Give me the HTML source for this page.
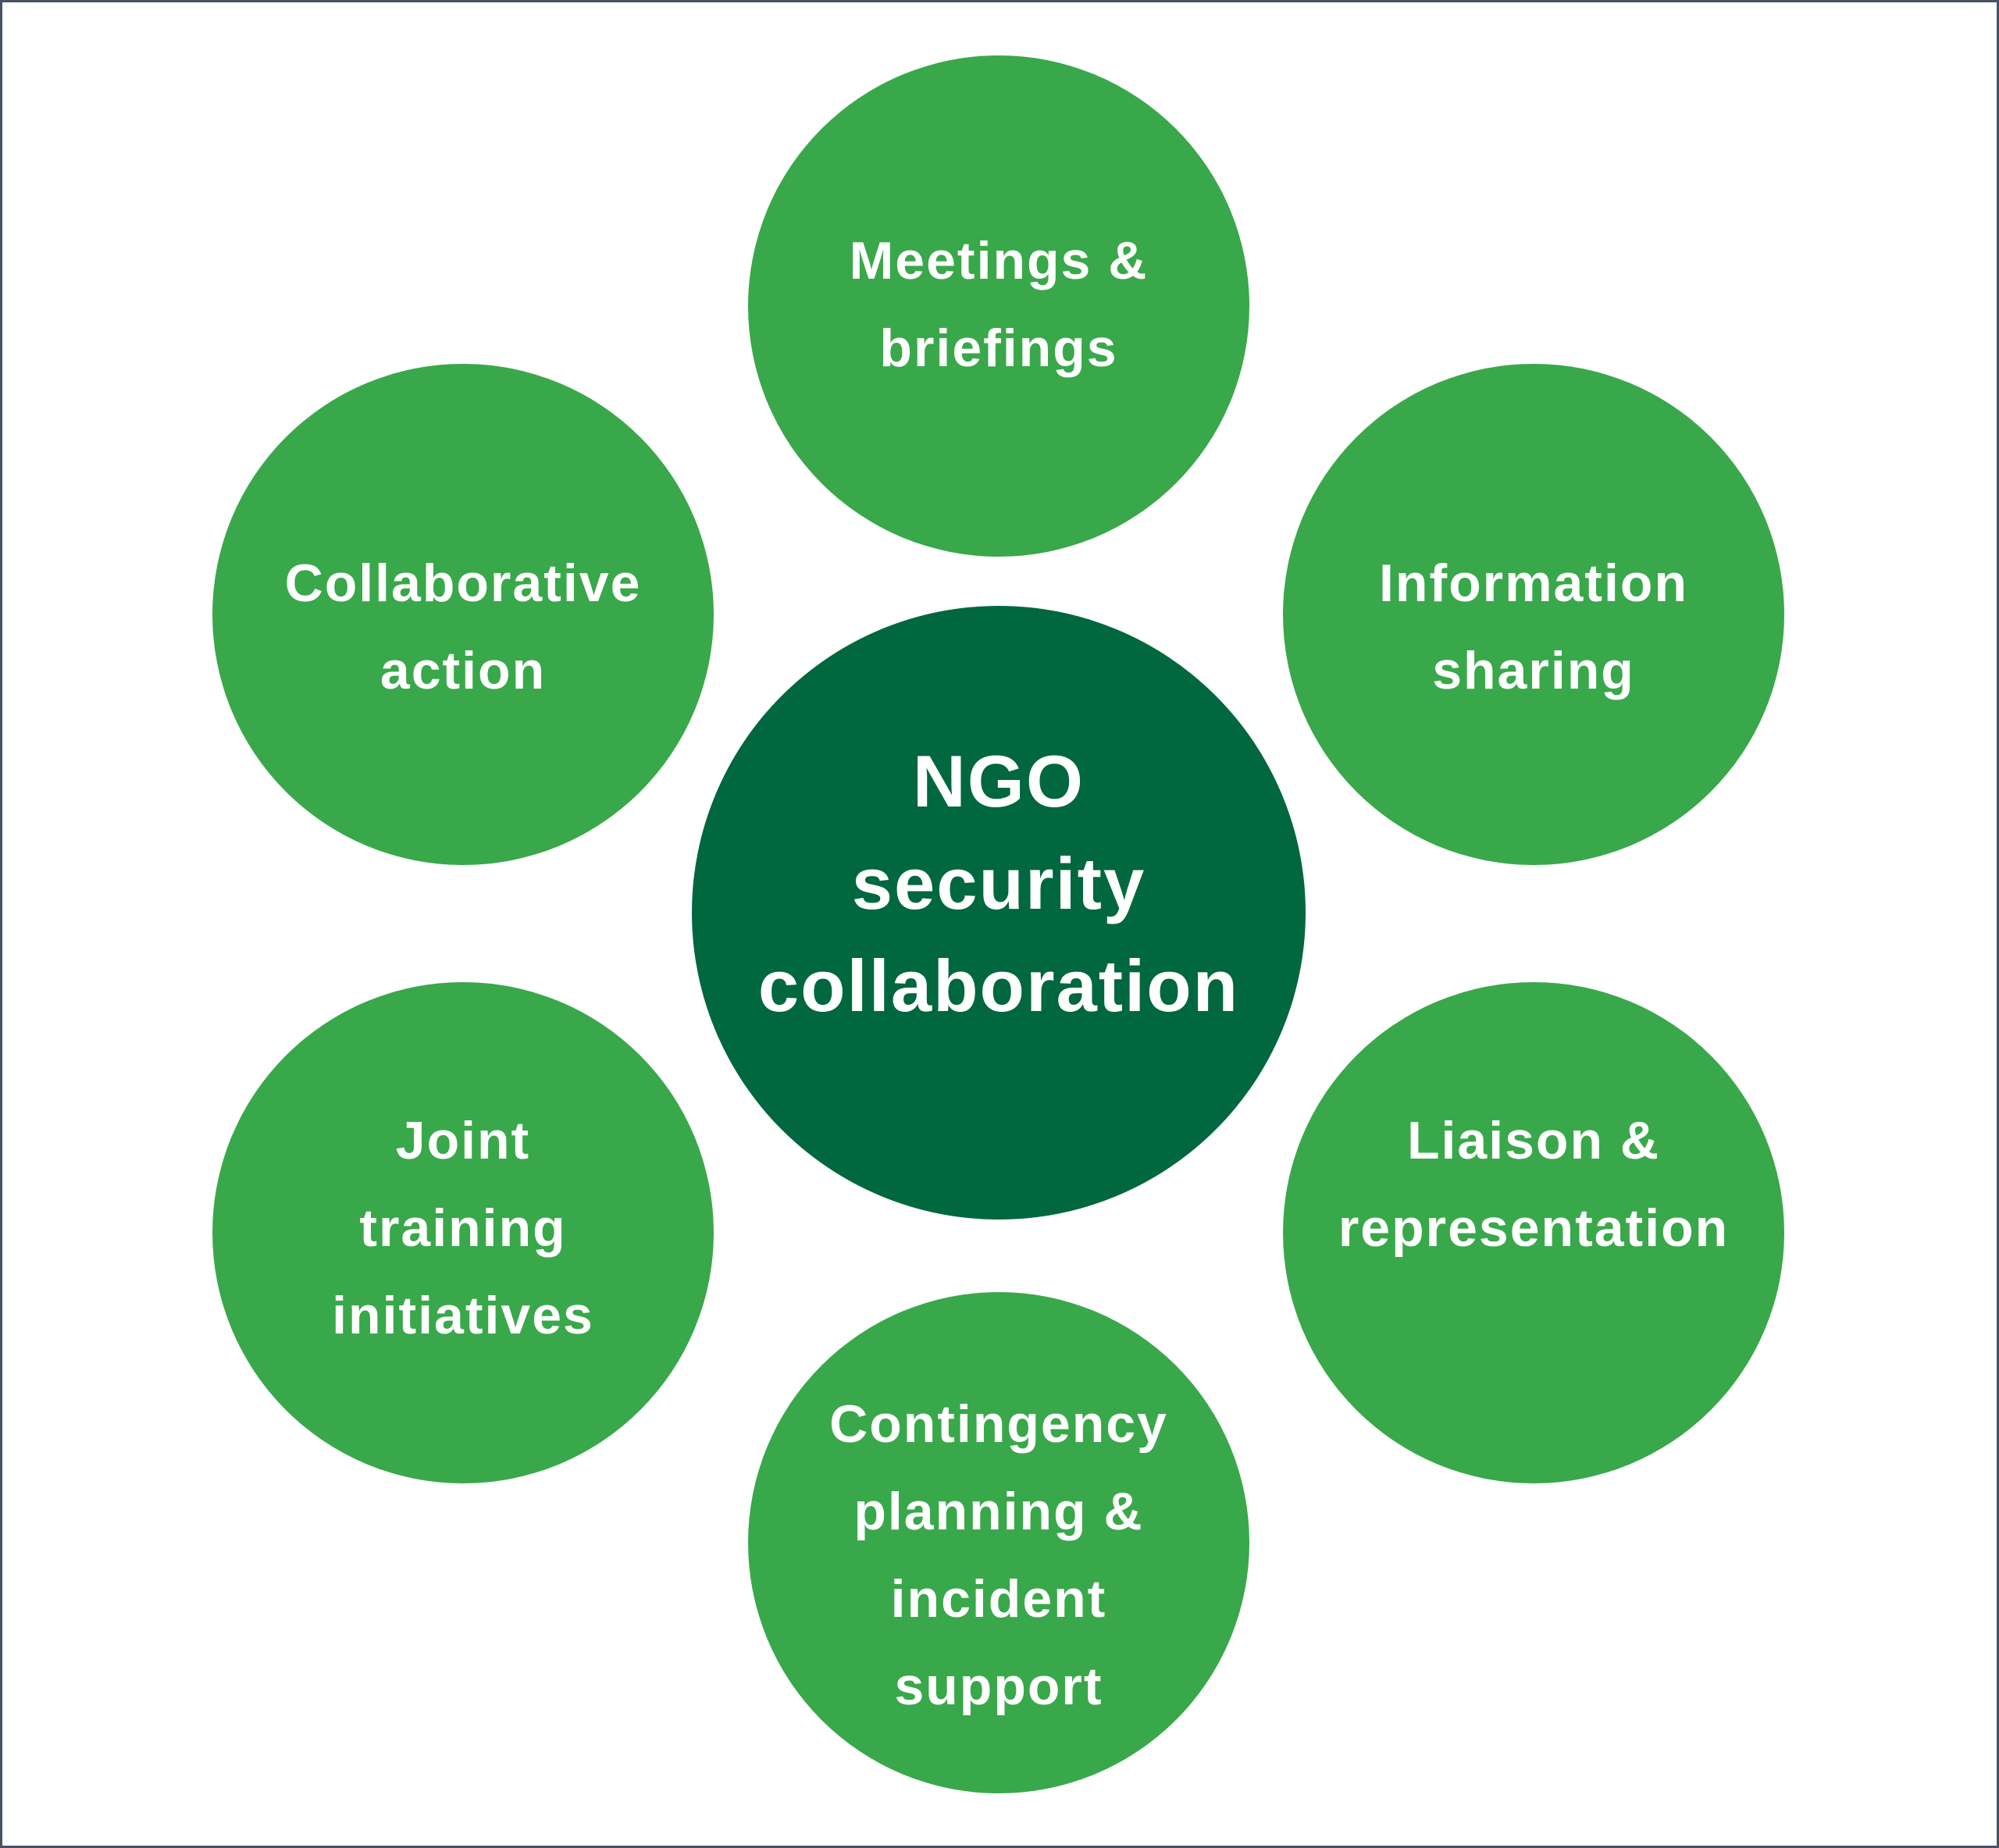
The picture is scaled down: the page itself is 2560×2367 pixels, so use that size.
<!DOCTYPE html>
<html><head><style>
html,body{margin:0;padding:0;}
body{width:2560px;height:2367px;position:relative;background:#fff;overflow:hidden;font-family:"Liberation Sans",sans-serif;}
.frame{position:absolute;left:0;top:0;width:2554px;height:2361px;border:3px solid #4a5160;}
.c{position:absolute;border-radius:50%;background:#39a84a;display:flex;align-items:center;justify-content:center;text-align:center;color:#fff;font-weight:bold;font-size:68px;line-height:112px;letter-spacing:2px;}
.c span{position:relative;}
.s{width:642px;height:642px;}
.big{width:786px;height:786px;background:#00673f;font-size:94px;line-height:131px;}
</style></head><body>
<div class="frame"></div>
<div class="c big" style="left:886px;top:776px;"><span style="top:-38px">NGO<br>security<br>collaboration</span></div>
<div class="c s" style="left:958px;top:71px;"><span style="top:-2px">Meetings &amp;<br>briefings</span></div>
<div class="c s" style="left:272px;top:466px;"><span style="top:16px">Collaborative<br>action</span></div>
<div class="c s" style="left:1643px;top:466px;"><span style="top:16px">Information<br>sharing</span></div>
<div class="c s" style="left:272px;top:1258px;"><span style="top:-6px">Joint<br>training<br>initiatives</span></div>
<div class="c s" style="left:1643px;top:1258px;"><span style="top:-62px">Liaison &amp;<br>representation</span></div>
<div class="c s" style="left:958px;top:1655px;"><span style="top:16px">Contingency<br>planning &amp;<br>incident<br>support</span></div>
</body></html>
